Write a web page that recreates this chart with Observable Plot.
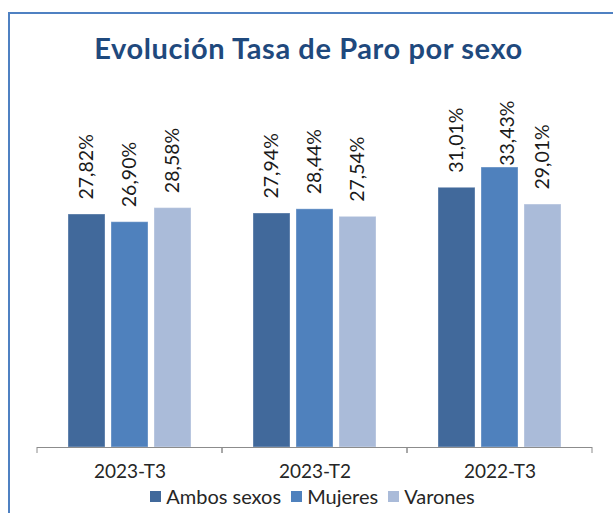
<!DOCTYPE html>
<html><head><meta charset="utf-8">
<script src="https://cdn.jsdelivr.net/npm/d3@7"></script>
<script src="https://cdn.jsdelivr.net/npm/@observablehq/plot@0.6"></script>
<style>
body{margin:0;background:#fff;}
#wrap{position:relative;width:613px;height:513px;overflow:hidden;font-family:Lato,sans-serif;background:#fff;}
#frame{position:absolute;left:8px;top:12px;width:700px;height:600px;border:2px solid #4f81c2;box-sizing:border-box;}
#title{position:absolute;left:0;width:617px;top:31px;text-align:center;font-weight:bold;font-size:29px;letter-spacing:0.6px;color:#1f497d;line-height:34px;}
#chart{position:absolute;left:0;top:90px;}
#legend{position:absolute;left:0;width:625px;top:484px;display:flex;justify-content:center;align-items:center;font-size:20px;color:#262626;line-height:24px;}
.item{display:flex;align-items:center;margin:0 5px;}
.sw{width:11px;height:11px;margin-right:5px;}
</style></head>
<body>
<div id="wrap">
  <div id="frame"></div>
  <div id="title">Evolución Tasa de Paro por sexo</div>
  <div id="chart"></div>
  <div id="legend"></div>
</div>
<script>
const periods = ["2023-T3", "2023-T2", "2022-T3"];
const series = ["Ambos sexos", "Mujeres", "Varones"];
const ambos = [27.82, 27.94, 31.01];
const mujeres = [26.90, 28.44, 33.43];
const varones = [28.58, 27.54, 29.01];
const colors = ["#41699b", "#4f81bd", "#aabbd9"];

const seriesValues = [ambos, mujeres, varones];
const data = periods.flatMap((p, i) => seriesValues.map((arr, j) => ({period: p, serie: series[j], value: arr[i]})));
const fmt = v => v.toFixed(2).replace(".", ",") + "%";
// labels that would run past the top of the plot area are pushed down (as in the original)
const clampAbove = 32.5;

function boundaryTicks(index, scales) {
  const [r0, r1] = scales.x.range();
  const y0 = scales.y(0);
  const g = d3.create("svg:g").attr("stroke", "#8c8c8c").attr("stroke-width", 1);
  for (const xv of [r0, r1]) {
    g.append("line").attr("x1", xv).attr("x2", xv).attr("y1", y0).attr("y2", y0 + 6);
  }
  return g.node();
}

const plot = Plot.plot({
  width: 613, height: 392,
  marginLeft: 36, marginRight: 21, marginTop: 22, marginBottom: 35,
  style: {fontFamily: "Lato, sans-serif", fontSize: "19px", color: "#262626", background: "transparent"},
  fx: {domain: periods, padding: 0, label: null, axis: "bottom", tickSize: 0, tickPadding: 17},
  x: {domain: series, paddingInner: 0.13, paddingOuter: 0.69, axis: null},
  y: {domain: [0, 40], axis: null},
  color: {domain: series, range: colors},
  marks: [
    Plot.barY(data, {fx: "period", x: "serie", y: "value", fill: "serie", stroke: "#ffffff", strokeOpacity: 0.35}),
    Plot.ruleY([0], {stroke: "#8c8c8c"}),
    boundaryTicks,
    Plot.text(data.filter(d => d.value <= clampAbove), {fx: "period", x: "serie", y: "value", text: d => fmt(d.value), rotate: -90, textAnchor: "start", dy: -15, fill: "#1a1a1a", fontSize: 19.5}),
    Plot.text(data.filter(d => d.value > clampAbove), {fx: "period", x: "serie", frameAnchor: "top", text: d => fmt(d.value), rotate: -90, textAnchor: "end", dy: -12, fill: "#1a1a1a", fontSize: 19.5})
  ]
});
document.getElementById("chart").appendChild(plot);

const legend = document.getElementById("legend");
series.forEach((s, i) => {
  const it = document.createElement("div");
  it.className = "item";
  it.innerHTML = `<div class="sw" style="background:${colors[i]}"></div><span>${s}</span>`;
  legend.appendChild(it);
});
</script>
</body></html>
